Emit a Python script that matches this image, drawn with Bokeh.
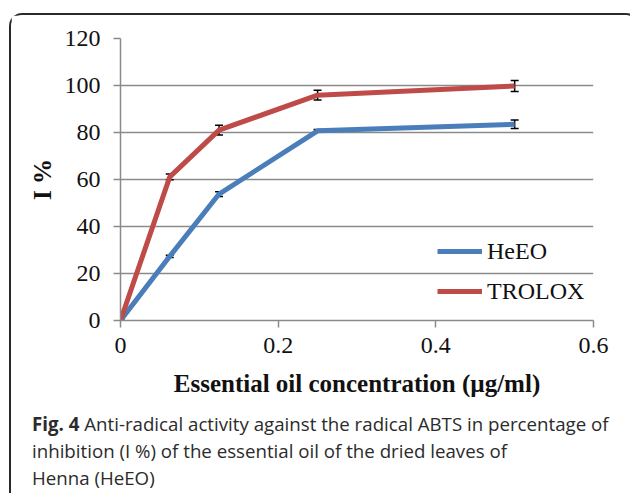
from bokeh.plotting import figure
from bokeh.models import (ColumnDataSource, Whisker, TeeHead, Legend, LegendItem,
                          FixedTicker, Range1d, Div)
from bokeh.layouts import column
from bokeh.embed import file_html
from bokeh.resources import INLINE

# ---- data ----
conc = [0, 0.0625, 0.125, 0.25, 0.5]
heeo = [0, 27.3, 53.8, 80.7, 83.5]
heeo_err = [0, 0.5, 1.0, 0.6, 1.8]
trolox = [0, 61.1, 81.0, 95.9, 99.8]
trolox_err = [0, 1.2, 2.1, 2.1, 2.3]
x_ticks = [0, 0.2, 0.4, 0.6]
y_ticks = [0, 20, 40, 60, 80, 100, 120]
series_names = ["HeEO", "TROLOX"]
caption_bold = "Fig. 4"
caption_lines = ["Anti-radical activity against the radical ABTS in percentage of",
                 "inhibition (I %) of the essential oil of the dried leaves of",
                 "Henna (HeEO)"]

SERIF = "Liberation Serif"
BLUE = "#4A7EBB"
RED = "#BE4B48"
GRID = "#8a8a8a"

p = figure(width=616, height=390, output_backend="svg", toolbar_location=None,
           x_range=Range1d(0, 0.6), y_range=Range1d(0, 120),
           min_border_left=109, min_border_right=34, min_border_top=23,
           min_border_bottom=85)
p.outline_line_color = None
p.background_fill_color = "white"
p.border_fill_color = "white"

# axes
for ax in (p.xaxis[0], p.yaxis[0]):
    ax.axis_line_color = GRID
    ax.axis_line_width = 1.5
    ax.major_tick_line_color = GRID
    ax.major_tick_line_width = 1.5
    ax.major_tick_in = 0
    ax.major_tick_out = 7
    ax.minor_tick_line_color = None
    ax.major_label_text_font = SERIF
    ax.major_label_text_font_size = "24px"
    ax.major_label_text_color = "#111111"
    ax.axis_label_text_font = SERIF
    ax.axis_label_text_font_style = "bold"
    ax.axis_label_text_font_size = "25px"
    ax.axis_label_text_color = "#111111"

p.xaxis.ticker = FixedTicker(ticks=x_ticks)
p.yaxis.ticker = FixedTicker(ticks=y_ticks)
p.xaxis.major_label_overrides = {0: "0", 0.2: "0.2", 0.4: "0.4", 0.6: "0.6"}
p.xaxis.major_label_standoff = 10
p.yaxis.major_label_standoff = 13
p.xaxis.axis_label = "Essential oil concentration (\u00b5g/ml)"
p.yaxis.axis_label = "I %"
p.xaxis.axis_label_standoff = 14
p.yaxis.axis_label_standoff = 6

p.xgrid.grid_line_color = None
p.ygrid.grid_line_color = GRID
p.ygrid.grid_line_width = 1.5

# lines
src_h = ColumnDataSource(dict(x=conc, y=heeo,
                              lo=[a - b for a, b in zip(heeo, heeo_err)],
                              hi=[a + b for a, b in zip(heeo, heeo_err)]))
src_t = ColumnDataSource(dict(x=conc, y=trolox,
                              lo=[a - b for a, b in zip(trolox, trolox_err)],
                              hi=[a + b for a, b in zip(trolox, trolox_err)]))

r_h = p.line("x", "y", source=src_h, line_color=BLUE, line_width=5)
r_t = p.line("x", "y", source=src_t, line_color=RED, line_width=5)

for src in (src_h, src_t):
    w = Whisker(source=src, base="x", lower="lo", upper="hi",
                line_color="black", line_width=1.5,
                upper_head=TeeHead(size=8, line_color="black", line_width=1.5),
                lower_head=TeeHead(size=8, line_color="black", line_width=1.5))
    p.add_layout(w)

legend = Legend(items=[LegendItem(label=series_names[0], renderers=[r_h]),
                       LegendItem(label=series_names[1], renderers=[r_t])],
                location=(317, 14), border_line_color=None,
                background_fill_alpha=0, padding=0, margin=0,
                glyph_width=45, glyph_height=30, label_height=30,
                spacing=10, label_standoff=5,
                label_text_font=SERIF, label_text_font_size="24px",
                label_text_color="#111111")
p.add_layout(legend, "center")

# caption
cap_html = ('<div style="font-family:\'Open Sans\'; font-size:18.7px; line-height:27px; '
            'color:#2b2b2b; padding-left:16px; white-space:nowrap;">'
            '<b>%s</b> %s<br>%s<br>%s</div>') % (caption_bold, caption_lines[0],
                                                  caption_lines[1], caption_lines[2])
cap = Div(text=cap_html, width=616, height=86)

root = column(p, cap, margin=(13, 0, 0, 9),
              styles={"border": "2px solid #2a2a2a", "border-bottom": "none",
                      "border-radius": "13px 13px 0 0", "background": "white"})

open("out.html", "w").write(file_html(root, INLINE))
